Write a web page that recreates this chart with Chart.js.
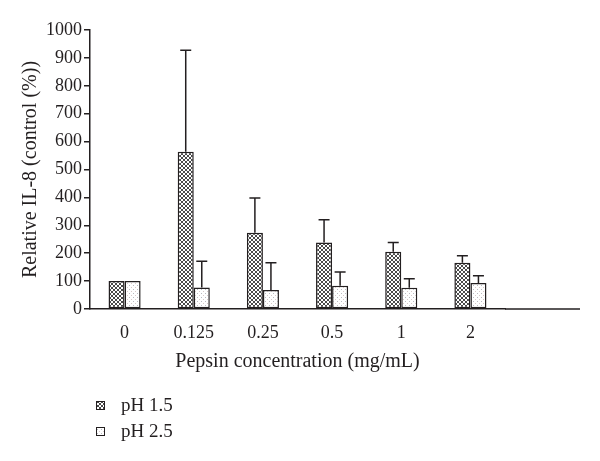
<!DOCTYPE html>
<html>
<head>
<meta charset="utf-8">
<script src="https://cdn.jsdelivr.net/npm/chart.js@4/dist/chart.umd.min.js"></script>
<style>
  html, body { margin: 0; padding: 0; background: #fff; }
  #wrap { width: 600px; height: 461px; }
</style>
</head>
<body>
<div id="wrap"><canvas id="il8Chart" width="600" height="461"></canvas></div>
<script>
// values
const categories = ["0", "0.125", "0.25", "0.5", "1", "2"];
const ph15 = [100, 564, 273, 238, 205, 166];
const ph15Err = [0, 363, 125, 82, 33, 25];
const ph25 = [100, 77, 68, 83, 76, 93];
const ph25Err = [0, 94, 98, 50, 32, 26];
const seriesNames = ["pH 1.5", "pH 2.5"];

const FONT = "'Liberation Serif', 'DejaVu Serif', serif";
const INK = "#231f20";

// bar fills
function crossHatch() {
  const c = document.createElement("canvas");
  c.width = 4; c.height = 4;
  const g = c.getContext("2d");
  g.fillStyle = "#fff";
  g.fillRect(0, 0, 4, 4);
  g.fillStyle = "#4a4a4a";
  [[0,0],[1,1],[2,2],[3,3],[3,0],[2,1],[1,2],[0,3]].forEach(p => g.fillRect(p[0], p[1], 1, 1));
  return g.createPattern(c, "repeat");
}

function dots() {
  const c = document.createElement("canvas");
  c.width = 4; c.height = 4;
  const g = c.getContext("2d");
  g.fillStyle = "#fff";
  g.fillRect(0, 0, 4, 4);
  g.fillStyle = "#b9b9c0";
  g.fillRect(1, 1, 1, 1);
  g.fillStyle = "#d8c8c8";
  g.fillRect(3, 3, 1, 1);
  return g.createPattern(c, "repeat");
}

const errors = [ph15Err, ph25Err];

// upward error bars with a cap
const errorBars = {
  id: "errorBars",
  afterDatasetsDraw(chart) {
    const ctx = chart.ctx;
    const y = chart.scales.y;
    ctx.save();
    ctx.strokeStyle = INK;
    ctx.lineWidth = 1.5;
    chart.data.datasets.forEach((ds, i) => {
      const meta = chart.getDatasetMeta(i);
      meta.data.forEach((bar, j) => {
        const err = errors[i][j];
        if (!err) return;
        const top = y.getPixelForValue(ds.data[j] + err);
        ctx.beginPath();
        ctx.moveTo(bar.x, bar.y);
        ctx.lineTo(bar.x, top);
        ctx.moveTo(bar.x - 5.5, top);
        ctx.lineTo(bar.x + 5.5, top);
        ctx.stroke();
      });
    });
    ctx.restore();
  }
};

// legend stacked under the plot, plus the x axis line running on to the right
const sideBits = {
  id: "sideBits",
  afterDraw(chart) {
    const ctx = chart.ctx;
    const area = chart.chartArea;
    ctx.save();
    ctx.strokeStyle = INK;
    ctx.lineWidth = 1.5;
    ctx.beginPath();
    ctx.moveTo(area.right, area.bottom);
    ctx.lineTo(580, area.bottom);
    ctx.stroke();

    ctx.font = "19px " + FONT;
    ctx.textBaseline = "middle";
    ctx.textAlign = "left";
    chart.data.datasets.forEach((ds, i) => {
      const yy = 405 + i * 26;
      ctx.fillStyle = ds.backgroundColor;
      ctx.fillRect(96, yy - 4, 9, 9);
      ctx.lineWidth = 1;
      ctx.strokeRect(96.5, yy - 3.5, 8, 8);
      ctx.fillStyle = INK;
      ctx.fillText(ds.label, 121, yy + 1);
    });
    ctx.restore();
  }
};

const ctx = document.getElementById("il8Chart").getContext("2d");
const chart = new Chart(ctx, {
  type: "bar",
  data: {
    labels: categories,
    datasets: [
      {
        label: seriesNames[0],
        data: ph15,
        backgroundColor: crossHatch(),
        borderColor: INK,
        borderWidth: 1.5,
        borderSkipped: false
      },
      {
        label: seriesNames[1],
        data: ph25,
        backgroundColor: dots(),
        borderColor: INK,
        borderWidth: 1.5,
        borderSkipped: false
      }
    ]
  },
  options: {
    responsive: false,
    animation: false,
    devicePixelRatio: 1,
    layout: { padding: { top: 30, right: 95, bottom: 0, left: 0 } },
    datasets: {
      bar: { barPercentage: 1, categoryPercentage: 0.464 }
    },
    plugins: {
      legend: { display: false },
      tooltip: { enabled: false }
    },
    scales: {
      x: {
        grid: { display: false },
        border: { display: true, color: INK, width: 1.5 },
        ticks: { color: INK, font: { family: FONT, size: 18 }, padding: 5, maxRotation: 0 },
        title: {
          display: true,
          text: "Pepsin concentration (mg/mL)",
          color: INK,
          font: { family: FONT, size: 20 },
          padding: { top: 4, bottom: 87 }
        },
        afterFit: (scale) => { scale.height = 152; }
      },
      y: {
        min: 0,
        max: 1000,
        grid: { drawOnChartArea: false, tickLength: 6, color: INK, lineWidth: 1.5 },
        border: { display: true, color: INK, width: 1.5 },
        ticks: {
          stepSize: 100,
          color: INK,
          font: { family: FONT, size: 18 },
          padding: 2,
          callback: (v) => String(v)
        },
        title: {
          display: true,
          text: "Relative IL-8 (control (%))",
          color: INK,
          font: { family: FONT, size: 20 },
          padding: { top: 19, bottom: 0 }
        },
        afterFit: (scale) => { scale.width = 90; }
      }
    }
  },
  plugins: [errorBars, sideBits]
});
</script>
</body>
</html>
